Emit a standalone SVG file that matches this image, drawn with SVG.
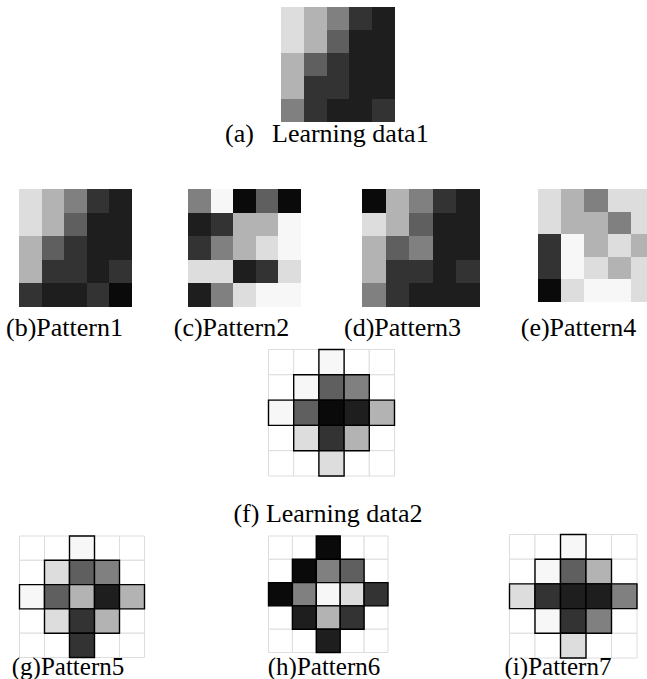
<svg xmlns="http://www.w3.org/2000/svg" width="647" height="679" viewBox="0 0 647 679">
  <style>
    .g rect { shape-rendering: crispEdges; }
    .k0 { fill: #0a0a0a; } .k1 { fill: #1e1e1e; } .k2 { fill: #333333; } .k3 { fill: #5f5f5f; }
    .k4 { fill: #808080; } .k5 { fill: #b3b3b3; } .k6 { fill: #dddddd; } .k7 { fill: #f7f7f7; }
    .bg rect { fill: #ffffff; stroke: #dddddd; stroke-width: 1; vector-effect: non-scaling-stroke; }
    .dm rect { stroke: #000000; stroke-width: 1.4; vector-effect: non-scaling-stroke; }
    text { font-family: "Liberation Serif", "Times New Roman", serif; font-size: 26px; fill: #000000; }
    text.sm { font-size: 25px; }
  </style>
  <defs>
    <!-- 5x5 light background lattice for the cross-shaped samples -->
    <g id="lattice" class="bg">
      <rect x="0" y="0" width="1" height="1"/><rect x="1" y="0" width="1" height="1"/><rect x="2" y="0" width="1" height="1"/><rect x="3" y="0" width="1" height="1"/><rect x="4" y="0" width="1" height="1"/>
      <rect x="0" y="1" width="1" height="1"/><rect x="1" y="1" width="1" height="1"/><rect x="2" y="1" width="1" height="1"/><rect x="3" y="1" width="1" height="1"/><rect x="4" y="1" width="1" height="1"/>
      <rect x="0" y="2" width="1" height="1"/><rect x="1" y="2" width="1" height="1"/><rect x="2" y="2" width="1" height="1"/><rect x="3" y="2" width="1" height="1"/><rect x="4" y="2" width="1" height="1"/>
      <rect x="0" y="3" width="1" height="1"/><rect x="1" y="3" width="1" height="1"/><rect x="2" y="3" width="1" height="1"/><rect x="3" y="3" width="1" height="1"/><rect x="4" y="3" width="1" height="1"/>
      <rect x="0" y="4" width="1" height="1"/><rect x="1" y="4" width="1" height="1"/><rect x="2" y="4" width="1" height="1"/><rect x="3" y="4" width="1" height="1"/><rect x="4" y="4" width="1" height="1"/>
    </g>
  </defs>

  <!-- (a) learning data 1 -->
  <g id="learning-data1">
    <g class="g" transform="translate(281,7) scale(22.8,23)">
      <rect class="k6" x="0" y="0" width="1" height="1"/><rect class="k5" x="1" y="0" width="1" height="1"/><rect class="k4" x="2" y="0" width="1" height="1"/><rect class="k2" x="3" y="0" width="1" height="1"/><rect class="k1" x="4" y="0" width="1" height="1"/>
      <rect class="k6" x="0" y="1" width="1" height="1"/><rect class="k5" x="1" y="1" width="1" height="1"/><rect class="k3" x="2" y="1" width="1" height="1"/><rect class="k1" x="3" y="1" width="1" height="1"/><rect class="k1" x="4" y="1" width="1" height="1"/>
      <rect class="k5" x="0" y="2" width="1" height="1"/><rect class="k3" x="1" y="2" width="1" height="1"/><rect class="k2" x="2" y="2" width="1" height="1"/><rect class="k1" x="3" y="2" width="1" height="1"/><rect class="k1" x="4" y="2" width="1" height="1"/>
      <rect class="k5" x="0" y="3" width="1" height="1"/><rect class="k2" x="1" y="3" width="1" height="1"/><rect class="k2" x="2" y="3" width="1" height="1"/><rect class="k1" x="3" y="3" width="1" height="1"/><rect class="k1" x="4" y="3" width="1" height="1"/>
      <rect class="k4" x="0" y="4" width="1" height="1"/><rect class="k2" x="1" y="4" width="1" height="1"/><rect class="k1" x="2" y="4" width="1" height="1"/><rect class="k1" x="3" y="4" width="1" height="1"/><rect class="k2" x="4" y="4" width="1" height="1"/>
    </g>
    <text x="225" y="142">(a)<tspan x="272">Learning data1</tspan></text>
  </g>

  <!-- (b) pattern 1 -->
  <g id="pattern1">
    <g class="g" transform="translate(19,189) scale(22.5,23.5)">
      <rect class="k6" x="0" y="0" width="1" height="1"/><rect class="k5" x="1" y="0" width="1" height="1"/><rect class="k4" x="2" y="0" width="1" height="1"/><rect class="k2" x="3" y="0" width="1" height="1"/><rect class="k1" x="4" y="0" width="1" height="1"/>
      <rect class="k6" x="0" y="1" width="1" height="1"/><rect class="k5" x="1" y="1" width="1" height="1"/><rect class="k3" x="2" y="1" width="1" height="1"/><rect class="k1" x="3" y="1" width="1" height="1"/><rect class="k1" x="4" y="1" width="1" height="1"/>
      <rect class="k5" x="0" y="2" width="1" height="1"/><rect class="k3" x="1" y="2" width="1" height="1"/><rect class="k2" x="2" y="2" width="1" height="1"/><rect class="k1" x="3" y="2" width="1" height="1"/><rect class="k1" x="4" y="2" width="1" height="1"/>
      <rect class="k5" x="0" y="3" width="1" height="1"/><rect class="k2" x="1" y="3" width="1" height="1"/><rect class="k2" x="2" y="3" width="1" height="1"/><rect class="k1" x="3" y="3" width="1" height="1"/><rect class="k2" x="4" y="3" width="1" height="1"/>
      <rect class="k2" x="0" y="4" width="1" height="1"/><rect class="k1" x="1" y="4" width="1" height="1"/><rect class="k1" x="2" y="4" width="1" height="1"/><rect class="k2" x="3" y="4" width="1" height="1"/><rect class="k0" x="4" y="4" width="1" height="1"/>
    </g>
    <text x="64.5" y="336" text-anchor="middle">(b)Pattern1</text>
  </g>

  <!-- (c) pattern 2 -->
  <g id="pattern2">
    <g class="g" transform="translate(188,189) scale(22.6,23.5)">
      <rect class="k4" x="0" y="0" width="1" height="1"/><rect class="k7" x="1" y="0" width="1" height="1"/><rect class="k0" x="2" y="0" width="1" height="1"/><rect class="k3" x="3" y="0" width="1" height="1"/><rect class="k0" x="4" y="0" width="1" height="1"/>
      <rect class="k1" x="0" y="1" width="1" height="1"/><rect class="k2" x="1" y="1" width="1" height="1"/><rect class="k5" x="2" y="1" width="1" height="1"/><rect class="k5" x="3" y="1" width="1" height="1"/><rect class="k7" x="4" y="1" width="1" height="1"/>
      <rect class="k2" x="0" y="2" width="1" height="1"/><rect class="k4" x="1" y="2" width="1" height="1"/><rect class="k5" x="2" y="2" width="1" height="1"/><rect class="k6" x="3" y="2" width="1" height="1"/><rect class="k7" x="4" y="2" width="1" height="1"/>
      <rect class="k6" x="0" y="3" width="1" height="1"/><rect class="k6" x="1" y="3" width="1" height="1"/><rect class="k1" x="2" y="3" width="1" height="1"/><rect class="k2" x="3" y="3" width="1" height="1"/><rect class="k6" x="4" y="3" width="1" height="1"/>
      <rect class="k1" x="0" y="4" width="1" height="1"/><rect class="k4" x="1" y="4" width="1" height="1"/><rect class="k6" x="2" y="4" width="1" height="1"/><rect class="k7" x="3" y="4" width="1" height="1"/><rect class="k7" x="4" y="4" width="1" height="1"/>
    </g>
    <text x="231.5" y="336" text-anchor="middle">(c)Pattern2</text>
  </g>

  <!-- (d) pattern 3 -->
  <g id="pattern3">
    <g class="g" transform="translate(362,189) scale(23.6,23.5)">
      <rect class="k0" x="0" y="0" width="1" height="1"/><rect class="k5" x="1" y="0" width="1" height="1"/><rect class="k4" x="2" y="0" width="1" height="1"/><rect class="k2" x="3" y="0" width="1" height="1"/><rect class="k1" x="4" y="0" width="1" height="1"/>
      <rect class="k6" x="0" y="1" width="1" height="1"/><rect class="k5" x="1" y="1" width="1" height="1"/><rect class="k3" x="2" y="1" width="1" height="1"/><rect class="k1" x="3" y="1" width="1" height="1"/><rect class="k1" x="4" y="1" width="1" height="1"/>
      <rect class="k5" x="0" y="2" width="1" height="1"/><rect class="k3" x="1" y="2" width="1" height="1"/><rect class="k4" x="2" y="2" width="1" height="1"/><rect class="k1" x="3" y="2" width="1" height="1"/><rect class="k1" x="4" y="2" width="1" height="1"/>
      <rect class="k5" x="0" y="3" width="1" height="1"/><rect class="k2" x="1" y="3" width="1" height="1"/><rect class="k2" x="2" y="3" width="1" height="1"/><rect class="k1" x="3" y="3" width="1" height="1"/><rect class="k2" x="4" y="3" width="1" height="1"/>
      <rect class="k4" x="0" y="4" width="1" height="1"/><rect class="k2" x="1" y="4" width="1" height="1"/><rect class="k1" x="2" y="4" width="1" height="1"/><rect class="k1" x="3" y="4" width="1" height="1"/><rect class="k1" x="4" y="4" width="1" height="1"/>
    </g>
    <text x="402.5" y="336" text-anchor="middle">(d)Pattern3</text>
  </g>

  <!-- (e) pattern 4 -->
  <g id="pattern4">
    <g class="g" transform="translate(538,189) scale(23.2,22.5)">
      <rect class="k6" x="0" y="0" width="1" height="1"/><rect class="k5" x="1" y="0" width="1" height="1"/><rect class="k4" x="2" y="0" width="1" height="1"/><rect class="k6" x="3" y="0" width="1" height="1"/><rect class="k6" x="4" y="0" width="1" height="1"/>
      <rect class="k6" x="0" y="1" width="1" height="1"/><rect class="k5" x="1" y="1" width="1" height="1"/><rect class="k5" x="2" y="1" width="1" height="1"/><rect class="k4" x="3" y="1" width="1" height="1"/><rect class="k6" x="4" y="1" width="1" height="1"/>
      <rect class="k2" x="0" y="2" width="1" height="1"/><rect class="k7" x="1" y="2" width="1" height="1"/><rect class="k5" x="2" y="2" width="1" height="1"/><rect class="k6" x="3" y="2" width="1" height="1"/><rect class="k5" x="4" y="2" width="1" height="1"/>
      <rect class="k2" x="0" y="3" width="1" height="1"/><rect class="k7" x="1" y="3" width="1" height="1"/><rect class="k6" x="2" y="3" width="1" height="1"/><rect class="k5" x="3" y="3" width="1" height="1"/><rect class="k6" x="4" y="3" width="1" height="1"/>
      <rect class="k0" x="0" y="4" width="1" height="1"/><rect class="k6" x="1" y="4" width="1" height="1"/><rect class="k7" x="2" y="4" width="1" height="1"/><rect class="k7" x="3" y="4" width="1" height="1"/><rect class="k6" x="4" y="4" width="1" height="1"/>
    </g>
    <text x="578.5" y="336" text-anchor="middle">(e)Pattern4</text>
  </g>

  <!-- (f) learning data 2 -->
  <g id="learning-data2">
    <g transform="translate(268.5,349.5) scale(25.2,25.3)">
      <use href="#lattice"/>
      <g class="dm">
        <rect class="k7" x="2" y="0" width="1" height="1"/>
        <rect class="k7" x="1" y="1" width="1" height="1"/><rect class="k3" x="2" y="1" width="1" height="1"/><rect class="k4" x="3" y="1" width="1" height="1"/>
        <rect class="k7" x="0" y="2" width="1" height="1"/><rect class="k3" x="1" y="2" width="1" height="1"/><rect class="k0" x="2" y="2" width="1" height="1"/><rect class="k1" x="3" y="2" width="1" height="1"/><rect class="k5" x="4" y="2" width="1" height="1"/>
        <rect class="k6" x="1" y="3" width="1" height="1"/><rect class="k2" x="2" y="3" width="1" height="1"/><rect class="k5" x="3" y="3" width="1" height="1"/>
        <rect class="k6" x="2" y="4" width="1" height="1"/>
      </g>
    </g>
    <text x="328" y="522" text-anchor="middle">(f) Learning data2</text>
  </g>

  <!-- (g) pattern 5 -->
  <g id="pattern5">
    <g transform="translate(19.5,536) scale(25,24.3)">
      <use href="#lattice"/>
      <g class="dm">
        <rect class="k7" x="2" y="0" width="1" height="1"/>
        <rect class="k6" x="1" y="1" width="1" height="1"/><rect class="k3" x="2" y="1" width="1" height="1"/><rect class="k4" x="3" y="1" width="1" height="1"/>
        <rect class="k7" x="0" y="2" width="1" height="1"/><rect class="k3" x="1" y="2" width="1" height="1"/><rect class="k5" x="2" y="2" width="1" height="1"/><rect class="k1" x="3" y="2" width="1" height="1"/><rect class="k5" x="4" y="2" width="1" height="1"/>
        <rect class="k6" x="1" y="3" width="1" height="1"/><rect class="k2" x="2" y="3" width="1" height="1"/><rect class="k5" x="3" y="3" width="1" height="1"/>
        <rect class="k2" x="2" y="4" width="1" height="1"/>
      </g>
    </g>
    <text class="sm" x="68" y="675" text-anchor="middle">(g)Pattern5</text>
  </g>

  <!-- (h) pattern 6 -->
  <g id="pattern6">
    <g transform="translate(268.5,536) scale(23.9,23.3)">
      <use href="#lattice"/>
      <g class="dm">
        <rect class="k0" x="2" y="0" width="1" height="1"/>
        <rect class="k0" x="1" y="1" width="1" height="1"/><rect class="k4" x="2" y="1" width="1" height="1"/><rect class="k3" x="3" y="1" width="1" height="1"/>
        <rect class="k0" x="0" y="2" width="1" height="1"/><rect class="k4" x="1" y="2" width="1" height="1"/><rect class="k7" x="2" y="2" width="1" height="1"/><rect class="k6" x="3" y="2" width="1" height="1"/><rect class="k2" x="4" y="2" width="1" height="1"/>
        <rect class="k1" x="1" y="3" width="1" height="1"/><rect class="k5" x="2" y="3" width="1" height="1"/><rect class="k2" x="3" y="3" width="1" height="1"/>
        <rect class="k1" x="2" y="4" width="1" height="1"/>
      </g>
    </g>
    <text class="sm" x="324" y="675" text-anchor="middle">(h)Pattern6</text>
  </g>

  <!-- (i) pattern 7 -->
  <g id="pattern7">
    <g transform="translate(509.5,534.5) scale(25.5,24.7)">
      <use href="#lattice"/>
      <g class="dm">
        <rect class="k7" x="2" y="0" width="1" height="1"/>
        <rect class="k7" x="1" y="1" width="1" height="1"/><rect class="k3" x="2" y="1" width="1" height="1"/><rect class="k5" x="3" y="1" width="1" height="1"/>
        <rect class="k6" x="0" y="2" width="1" height="1"/><rect class="k2" x="1" y="2" width="1" height="1"/><rect class="k1" x="2" y="2" width="1" height="1"/><rect class="k1" x="3" y="2" width="1" height="1"/><rect class="k4" x="4" y="2" width="1" height="1"/>
        <rect class="k7" x="1" y="3" width="1" height="1"/><rect class="k2" x="2" y="3" width="1" height="1"/><rect class="k4" x="3" y="3" width="1" height="1"/>
        <rect class="k6" x="2" y="4" width="1" height="1"/>
      </g>
    </g>
    <text class="sm" x="558" y="675" text-anchor="middle">(i)Pattern7</text>
  </g>
</svg>
